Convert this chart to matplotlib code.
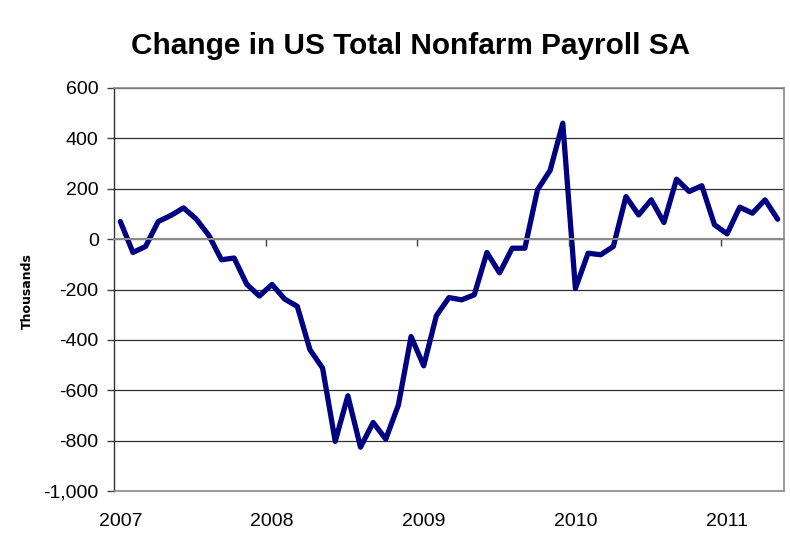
import matplotlib
matplotlib.use("Agg")
import matplotlib.pyplot as plt
from matplotlib.ticker import FuncFormatter, FixedLocator

# Monthly change in total nonfarm payrolls, seasonally adjusted (thousands), Jan 2007 - May 2011
payroll_change = [
    70, -53, -29, 70, 94, 124, 80, 15, -82, -75, -179, -226,
    -180, -238, -267, -439, -512, -803, -622, -826, -728, -794, -658, -387,
    -503, -304, -232, -241, -221, -53, -134, -36, -36, 196, 273, 460,
    -196, -56, -62, -29, 169, 96, 156, 66, 238, 189, 212, 57,
    21, 127, 103, 156, 79,
]
year_labels = ["2007", "2008", "2009", "2010", "2011"]
y_ticks = [600, 400, 200, 0, -200, -400, -600, -800, -1000]

plt.rcParams["font.family"] = ["Liberation Sans", "DejaVu Sans"]

fig = plt.figure(figsize=(7.9, 5.38), dpi=100)
ax = fig.add_axes([114 / 790, 1 - 491 / 538, 670 / 790, 403 / 538])

months = list(range(len(payroll_change)))
ax.plot(months, payroll_change, color="#000080", lw=3.8,
        solid_joinstyle="round", solid_capstyle="round", zorder=3)

ax.set_xlim(-0.5, len(payroll_change) - 0.5)
ax.set_ylim(min(y_ticks), max(y_ticks))

# y axis
ax.yaxis.set_major_locator(FixedLocator(y_ticks))
ax.yaxis.set_major_formatter(FuncFormatter(lambda v, p: f"{int(v):,}"))
ax.tick_params(axis="y", direction="out", length=5, width=1, color="#404040",
               labelsize=14, pad=6)
ax.yaxis.grid(True, color="#303030", lw=0.9)
ax.set_axisbelow(True)

# year labels at the first month of each year, along the bottom
ax.set_xticks([12 * i for i in range(len(year_labels))])
ax.set_xticklabels(year_labels, fontsize=14)
ax.tick_params(axis="x", length=0, pad=16)

for side in ("top", "right", "bottom"):
    ax.spines[side].set_color("#8a8a8a")
    ax.spines[side].set_linewidth(1.2)
ax.spines["left"].set_color("#303030")
ax.spines["left"].set_linewidth(1.0)

# category axis crossing at zero, with ticks between years
ax2 = ax.twiny()
ax2.set_xlim(ax.get_xlim())
ax2.spines["bottom"].set_position(("data", 0))
ax2.spines["bottom"].set_color("#8a8a8a")
ax2.spines["bottom"].set_linewidth(1.5)
for side in ("top", "right", "left"):
    ax2.spines[side].set_visible(False)
ax2.xaxis.set_ticks_position("bottom")
ax2.set_xticks([12 * i - 0.5 for i in range(1, len(year_labels))])
ax2.set_xticklabels([])
ax2.tick_params(axis="x", direction="out", length=5, width=1, color="#404040")

fig.text(411 / 790, 1 - 46 / 538, "Change in US Total Nonfarm Payroll SA",
         ha="center", va="center", fontsize=21.4, fontweight="bold")
fig.text(27 / 790, 1 - 291 / 538, "Thousands", rotation=90,
         ha="center", va="center", fontsize=9, fontweight="heavy",
         family=["DejaVu Sans"])

fig.savefig("out.png", dpi=100, facecolor="white")
